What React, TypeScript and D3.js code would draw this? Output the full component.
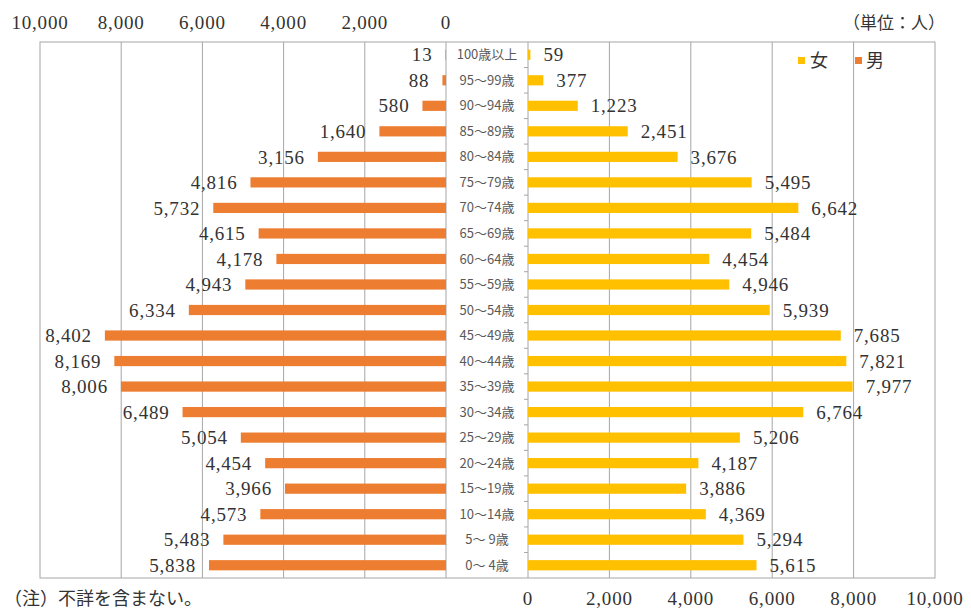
import React from "react";
import * as d3 from "d3";

// age groups, top to bottom
const ageGroups = [
  "100歳以上", "95～99歳", "90～94歳", "85～89歳", "80～84歳", "75～79歳",
  "70～74歳", "65～69歳", "60～64歳", "55～59歳", "50～54歳", "45～49歳",
  "40～44歳", "35～39歳", "30～34歳", "25～29歳", "20～24歳", "15～19歳",
  "10～14歳", "5～ 9歳", "0～ 4歳",
];

const male = [
  13, 88, 580, 1640, 3156, 4816, 5732, 4615, 4178, 4943, 6334, 8402, 8169,
  8006, 6489, 5054, 4454, 3966, 4573, 5483, 5838,
];

const female = [
  59, 377, 1223, 2451, 3676, 5495, 6642, 5484, 4454, 4946, 5939, 7685, 7821,
  7977, 6764, 5206, 4187, 3886, 4369, 5294, 5615,
];

const ticks = [0, 2000, 4000, 6000, 8000, 10000];

const W = 971;
const H = 610;
const top = 42;
const bottom = 578;
const leftX0 = 40; // 10,000 on the male side
const leftX1 = 446; // 0 on the male side
const rightX0 = 528; // 0 on the female side
const rightX1 = 935; // 10,000 on the female side

const ORANGE = "#ED7D31";
const YELLOW = "#FFC000";
const GRID = "#a6a6a6";
const NUM_FONT = "'Liberation Serif', 'DejaVu Serif', serif";
const JP_FONT = "'Noto Sans CJK JP', sans-serif";

export default function App() {
  const xMale = d3.scaleLinear().domain([0, 10000]).range([leftX1, leftX0]);
  const xFemale = d3.scaleLinear().domain([0, 10000]).range([rightX0, rightX1]);
  const y = d3.scaleBand().domain(ageGroups).range([top, bottom]).paddingInner(0.6).paddingOuter(0.3);
  const band = d3.scaleBand().domain(ageGroups).range([top, bottom]);
  const fmt = d3.format(",");

  return (
    <div style={{ position: "absolute", left: 0, top: 0 }}>
      <svg width={W} height={H} style={{ display: "block", background: "#fff" }}>
        {/* gridlines */}
        {ticks.slice(1, -1).map((t) => (
          <g key={"g" + t}>
            <line x1={xMale(t)} x2={xMale(t)} y1={top} y2={bottom} stroke={GRID} strokeWidth={1} />
            <line x1={xFemale(t)} x2={xFemale(t)} y1={top} y2={bottom} stroke={GRID} strokeWidth={1} />
          </g>
        ))}
        {/* frame */}
        <rect x={leftX0} y={top} width={rightX1 - leftX0} height={bottom - top} fill="none" stroke={GRID} strokeWidth={1} />
        <line x1={leftX1} x2={leftX1} y1={top} y2={bottom} stroke={GRID} />
        <line x1={rightX0} x2={rightX0} y1={top} y2={bottom} stroke={GRID} />
        {/* category ticks */}
        {ageGroups.slice(1).map((a) => (
          <line key={"t" + a} x1={rightX0 - 4} x2={rightX0} y1={band(a)!} y2={band(a)!} stroke={GRID} />
        ))}

        {/* bars */}
        {ageGroups.map((a, i) => (
          <g key={a}>
            <rect x={xMale(male[i])} y={y(a)!} width={xMale(0) - xMale(male[i])} height={y.bandwidth()} fill={ORANGE} />
            <rect x={xFemale(0)} y={y(a)!} width={xFemale(female[i]) - xFemale(0)} height={y.bandwidth()} fill={YELLOW} />
            <text
              x={xMale(male[i]) - 13}
              y={band(a)! + band.bandwidth() / 2}
              dy="0.35em"
              textAnchor="end"
              fontFamily={NUM_FONT}
              fontSize={19}
              letterSpacing={0.8}
              fill="#333"
            >
              {fmt(male[i])}
            </text>
            <text
              x={xFemale(female[i]) + 13}
              y={band(a)! + band.bandwidth() / 2}
              dy="0.35em"
              textAnchor="start"
              fontFamily={NUM_FONT}
              fontSize={19}
              letterSpacing={0.8}
              fill="#333"
            >
              {fmt(female[i])}
            </text>
            <text
              x={(leftX1 + rightX0) / 2}
              y={band(a)! + band.bandwidth() / 2}
              dy="0.35em"
              textAnchor="middle"
              fontFamily={JP_FONT}
              fontSize={13}
              fill="#595959"
            >
              {a}
            </text>
          </g>
        ))}

        {/* top axis (male) */}
        {ticks.map((t) => (
          <text key={"m" + t} x={xMale(t)} y={29} textAnchor="middle" fontFamily={NUM_FONT} fontSize={19} letterSpacing={0.8} fill="#333">
            {fmt(t)}
          </text>
        ))}
        {/* bottom axis (female) */}
        {ticks.map((t) => (
          <text key={"f" + t} x={xFemale(t)} y={605} textAnchor="middle" fontFamily={NUM_FONT} fontSize={19} letterSpacing={0.8} fill="#333">
            {fmt(t)}
          </text>
        ))}

        {/* unit */}
        <text x={945} y={29} textAnchor="end" fontFamily={JP_FONT} fontSize={17} fill="#333">
          （単位：人）
        </text>

        {/* legend */}
        <rect x={798} y={57} width={7} height={7} fill={YELLOW} />
        <text x={810} y={67} fontFamily={JP_FONT} fontSize={18} fill="#333">女</text>
        <rect x={855} y={57} width={7} height={7} fill={ORANGE} />
        <text x={866} y={67} fontFamily={JP_FONT} fontSize={18} fill="#333">男</text>

        {/* note */}
        <text x={4} y={605} fontFamily={JP_FONT} fontSize={18} fill="#333">
          （注）不詳を含まない。
        </text>
      </svg>
    </div>
  );
}
